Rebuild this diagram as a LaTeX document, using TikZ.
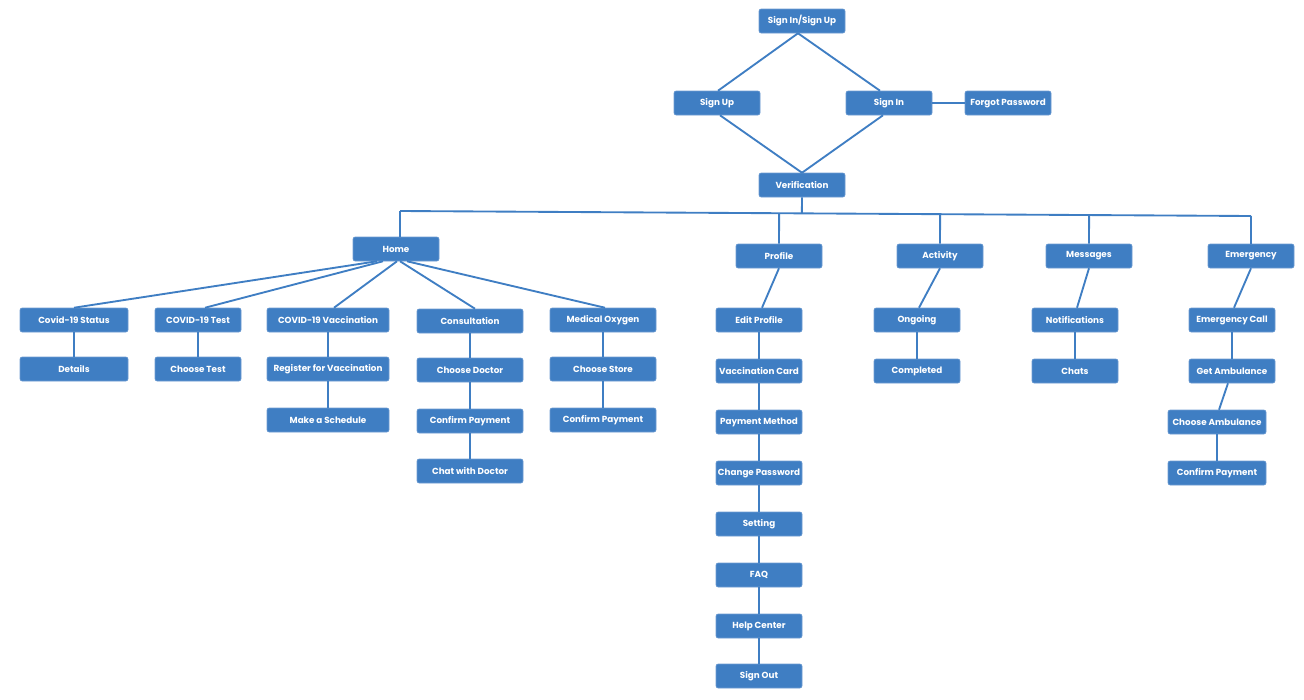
\documentclass[tikz,border=0pt]{standalone}
\usepackage{fontspec}
\setmainfont{Poppins}
\usetikzlibrary{calc}
\definecolor{bxc}{HTML}{3F7EC3}
\definecolor{bxe}{HTML}{6E9CD2}
\tikzset{
  bx/.style={draw=bxe, line width=0.4pt, fill=bxc, rounded corners=1.5pt, text=white,
    font=\bfseries\fontsize{6.6}{7.5}\selectfont, minimum height=18pt, inner sep=0pt,
    minimum width=64.5pt},
  wA/.style={minimum width=81pt},
  wB/.style={minimum width=91.5pt},
  wC/.style={minimum width=79.5pt},
  wD/.style={minimum width=73.5pt},
  ln/.style={draw=bxc, line width=1.4pt}
}
\begin{document}
\begin{tikzpicture}[x=0.75pt,y=-0.75pt]
\useasboundingbox (0,0) rectangle (1304,700);
% top
\node[bx] (sisu) at (802,21) {Sign In/Sign Up};
\node[bx] (su) at (717,103) {Sign Up};
\node[bx] (si) at (889,103) {Sign In};
\node[bx] (fp) at (1008,103) {Forgot Password};
\node[bx] (ver) at (802,185) {Verification};
% level 1
\node[bx] (home) at (396,249) {Home};
\node[bx] (prof) at (779,256) {Profile};
\node[bx] (act) at (940,256) {Activity};
\node[bx] (msg) at (1089,256) {Messages};
\node[bx] (emg) at (1251,256) {Emergency};
% home children
\node[bx,wA] (cs) at (74,320) {Covid-19 Status};
\node[bx,wA] (det) at (74,369) {Details};
\node[bx] (ct) at (198,320) {COVID-19 Test};
\node[bx] (cht) at (198,369) {Choose Test};
\node[bx,wB] (cv) at (328,320) {COVID-19 Vaccination};
\node[bx,wB] (rv) at (328,369) {Register for Vaccination};
\node[bx,wB] (ms) at (328,420) {Make a Schedule};
\node[bx,wC] (con) at (470,321) {Consultation};
\node[bx,wC] (cd) at (470,370) {Choose Doctor};
\node[bx,wC] (cp1) at (470,421) {Confirm Payment};
\node[bx,wC] (cwd) at (470,471) {Chat with Doctor};
\node[bx,wC] (mo) at (603,320) {Medical Oxygen};
\node[bx,wC] (cst) at (603,369) {Choose Store};
\node[bx,wC] (cp2) at (603,420) {Confirm Payment};
% profile column
\node[bx] (ep) at (759,320) {Edit Profile};
\node[bx] (vc) at (759,371) {Vaccination Card};
\node[bx] (pm) at (759,422) {Payment Method};
\node[bx] (cpw) at (759,473) {Change Password};
\node[bx] (set) at (759,524) {Setting};
\node[bx] (faq) at (759,575) {FAQ};
\node[bx] (hc) at (759,626) {Help Center};
\node[bx] (so) at (759,676) {Sign Out};
% activity
\node[bx] (og) at (917,320) {Ongoing};
\node[bx] (cmp) at (917,371) {Completed};
% messages
\node[bx] (nt) at (1075,320) {Notifications};
\node[bx] (ch) at (1075,371) {Chats};
% emergency
\node[bx] (ec) at (1232,320) {Emergency Call};
\node[bx] (ga) at (1232,371) {Get Ambulance};
\node[bx,wD] (ca) at (1217,422) {Choose Ambulance};
\node[bx,wD] (cp3) at (1217,473) {Confirm Payment};
% connectors top
\draw[ln] ($(sisu.south)+(-4,0)$) -- ($(su.north)+(1,0)$);
\draw[ln] ($(sisu.south)+(-4,0)$) -- ($(si.north)+(-9,0)$);
\draw[ln] ($(su.south)+(3,0)$) -- (ver.north);
\draw[ln] ($(si.south)+(-6,0)$) -- (ver.north);
\draw[ln] (si.east) -- (fp.west);
% bus
\coordinate (busL) at (400,211);
\coordinate (busR) at (1251,216);
\draw[ln] (ver.south) -- ($(busL)!(ver.south)!(busR)$);
\draw[ln] (busL) -- (busR);
\draw[ln] (busL) -- (busL |- home.north);
\draw[ln] ($(busL)!(prof.north)!(busR)$) -- (prof.north);
\draw[ln] ($(busL)!(act.north)!(busR)$) -- (act.north);
\draw[ln] ($(busL)!(msg.north)!(busR)$) -- (msg.north);
\draw[ln] (busR) -- (emg.north);
% home fan
\draw[ln] ($(home.south)+(-19,0)$) -- (cs.north);
\draw[ln] ($(home.south)+(-13,0)$) -- ($(ct.north)+(7,0)$);
\draw[ln] ($(home.south)+(1,0)$) -- ($(cv.north)+(6,0)$);
\draw[ln] ($(home.south)+(4,0)$) -- ($(con.north)+(5,0)$);
\draw[ln] ($(home.south)+(11,0)$) -- ($(mo.north)+(2,0)$);
% home columns
\draw[ln] (cs) -- (det);
\draw[ln] (ct) -- (cht);
\draw[ln] (cv) -- (rv);
\draw[ln] (rv) -- (ms);
\draw[ln] (con) -- (cd);
\draw[ln] (cd) -- (cp1);
\draw[ln] (cp1) -- (cwd);
\draw[ln] (mo) -- (cst);
\draw[ln] (cst) -- (cp2);
% profile
\draw[ln] (prof.south) -- ($(ep.north)+(3,0)$);
\draw[ln] (ep) -- (vc);
\draw[ln] (vc) -- (pm);
\draw[ln] (pm) -- (cpw);
\draw[ln] (cpw) -- (set);
\draw[ln] (set) -- (faq);
\draw[ln] (faq) -- (hc);
\draw[ln] (hc) -- (so);
% activity
\draw[ln] (act.south) -- ($(og.north)+(2,0)$);
\draw[ln] (og) -- (cmp);
% messages
\draw[ln] (msg.south) -- ($(nt.north)+(2,0)$);
\draw[ln] (nt) -- (ch);
% emergency
\draw[ln] (emg.south) -- ($(ec.north)+(2,0)$);
\draw[ln] (ec) -- (ga);
\draw[ln] ($(ga.south)+(-4,0)$) -- ($(ca.north)+(2,0)$);
\draw[ln] (ca) -- (cp3);
\end{tikzpicture}
\end{document}
